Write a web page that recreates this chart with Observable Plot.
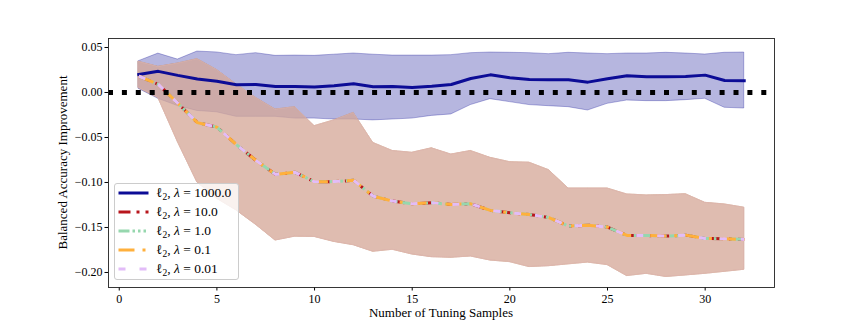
<!DOCTYPE html>
<html>
<head>
<meta charset="utf-8">
<script src="https://cdn.jsdelivr.net/npm/d3@7"></script>
<script src="https://cdn.jsdelivr.net/npm/@observablehq/plot@0.6"></script>
<style>
  body { margin: 0; background: #fff; }
  #wrap { position: relative; width: 861px; height: 323px; font-family: "Liberation Serif", serif; }
  #legend { position: absolute; left: 114px; top: 183px; width: 125px; height: 97px; box-sizing: border-box;
            background: rgba(255,255,255,0.8); border: 1px solid #cccccc; border-radius: 3px; }
  .lg-line { position: absolute; left: 3px; }
  .lg-text { position: absolute; left: 41px; font-size: 13.5px; line-height: 16px; white-space: nowrap; color: #000; }
  .lg-text .sub { font-size: 9.5px; position: relative; top: 3px; }
</style>
</head>
<body>
<div id="wrap"></div>
<script>
// ---- data ----
const xs = [1,2,3,4,5,6,7,8,9,10,11,12,13,14,15,16,17,18,19,20,21,22,23,24,25,26,27,28,29,30,31,32];

// lambda = 1000.0 (mean and band)
const blueMean = [0.0200,0.0235,0.0190,0.0150,0.0125,0.0087,0.0089,0.0067,0.0067,0.0060,0.0074,0.0096,0.0063,0.0067,0.0056,0.0070,
                  0.0089,0.0156,0.0196,0.0163,0.0144,0.0141,0.0141,0.0115,0.0152,0.0185,0.0174,0.0174,0.0178,0.0193,0.0133,0.0130];
const blueHi   = [0.0348,0.0432,0.0366,0.0455,0.0445,0.0415,0.0437,0.0407,0.0410,0.0407,0.0420,0.0433,0.0420,0.0410,0.0410,0.0410,
                  0.0415,0.0437,0.0444,0.0441,0.0437,0.0426,0.0441,0.0433,0.0426,0.0433,0.0433,0.0441,0.0433,0.0422,0.0441,0.0444];
const blueLo   = [0.0040,-0.0070,-0.0150,-0.0205,-0.0220,-0.0270,-0.0270,-0.0270,-0.0290,-0.0290,-0.0300,-0.0300,-0.0310,-0.0300,-0.0290,-0.0260,
                  -0.0244,-0.0140,-0.0074,-0.0107,-0.0140,-0.0152,-0.0163,-0.0200,-0.0126,-0.0089,-0.0096,-0.0096,-0.0085,-0.0070,-0.0170,-0.0178];

// lambda = 10.0, 1.0, 0.1, 0.01 (curves coincide)
const regMean  = [0.0181,0.0090,-0.0120,-0.0335,-0.0385,-0.0580,-0.0755,-0.0910,-0.0887,-0.0993,-0.0990,-0.0976,-0.1152,-0.1207,-0.1237,-0.1226,
                  -0.1244,-0.1237,-0.1310,-0.1337,-0.1355,-0.1390,-0.1485,-0.1474,-0.1496,-0.1589,-0.1589,-0.1596,-0.1585,-0.1622,-0.1626,-0.1633];
const regHi    = [0.0341,0.0285,0.0322,0.0370,0.0250,0.0090,-0.0060,-0.0190,-0.0163,-0.0374,-0.0310,-0.0227,-0.0560,-0.0650,-0.0670,-0.0620,
                  -0.0690,-0.0650,-0.0726,-0.0774,-0.0780,-0.0863,-0.1067,-0.1067,-0.1067,-0.1133,-0.1144,-0.1140,-0.1130,-0.1226,-0.1244,-0.1280];
const regLo    = [0.0050,-0.0060,-0.0550,-0.1000,-0.1180,-0.1310,-0.1470,-0.1645,-0.1602,-0.1605,-0.1660,-0.1697,-0.1770,-0.1748,-0.1800,-0.1830,
                  -0.1837,-0.1822,-0.1867,-0.1885,-0.1940,-0.1930,-0.1910,-0.1890,-0.1918,-0.2040,-0.2015,-0.2050,-0.2033,-0.2015,-0.1993,-0.1970];

const seriesLabels = ["1000.0", "10.0", "1.0", "0.1", "0.01"];
const seriesColors = ["#0c0c96", "#b8161c", "#96d7ae", "#ffb03c", "#e2bcf8"];
const seriesDash   = [null, "12,6,3,6", "11,3,2.5,3,2.5,3,2.5,3", "16,8,3,8", "7,14"];

const xTicks = [0, 5, 10, 15, 20, 25, 30];
const yTicks = [-0.20, -0.15, -0.10, -0.05, 0.00, 0.05];
const xLabel = "Number of Tuning Samples";
const yLabel = "Balanced Accuracy Improvement";

// ---- table ----
const data = xs.map((x, i) => ({x, bm: blueMean[i], bh: blueHi[i], bl: blueLo[i], rm: regMean[i], rh: regHi[i], rl: regLo[i]}));

const marks = [];
marks.push(Plot.areaY(data, {x: "x", y1: "bl", y2: "bh", fill: seriesColors[0], fillOpacity: 0.3,
  stroke: seriesColors[0], strokeOpacity: 0.3, strokeWidth: 1}));
for (let s = 1; s < 5; s++) {
  marks.push(Plot.areaY(data, {x: "x", y1: "rl", y2: "rh", fill: seriesColors[s], fillOpacity: 0.3,
    stroke: seriesColors[s], strokeOpacity: 0.3, strokeWidth: 1}));
}
marks.push(Plot.lineY(data, {x: "x", y: "bm", stroke: seriesColors[0], strokeWidth: 3, strokeLinecap: "square", strokeLinejoin: "round"}));
for (let s = 1; s < 5; s++) {
  marks.push(Plot.lineY(data, {x: "x", y: "rm", stroke: seriesColors[s], strokeWidth: 3,
    strokeDasharray: seriesDash[s], strokeLinecap: "butt", strokeLinejoin: "round"}));
}
marks.push(Plot.ruleY([0], {stroke: "#000", strokeWidth: 4.8, strokeDasharray: "5,8.9"}));
marks.push(Plot.frame({stroke: "#222", strokeWidth: 0.9}));

const fmtY = d => (d < -1e-9 ? "\u2212" : "") + Math.abs(d).toFixed(2);

const chart = Plot.plot({
  width: 861, height: 323,
  marginLeft: 108, marginRight: 87, marginTop: 38, marginBottom: 36,
  style: {fontFamily: '"Liberation Serif", serif', fontSize: "12px", color: "#000", background: "#fff"},
  x: {domain: [-0.55, 33.55], ticks: xTicks, tickSize: 3.5, tickPadding: 3, label: null, tickFormat: d => String(d)},
  y: {domain: [-0.2167, 0.06], ticks: yTicks, tickSize: 3.5, tickPadding: 2.5, label: null, tickFormat: fmtY},
  marks
});

const svg = d3.select(chart);
svg.append("text")
  .attr("x", 441).attr("y", 316.5)
  .attr("text-anchor", "middle")
  .attr("font-size", 13)
  .attr("fill", "#000")
  .text(xLabel);
svg.append("text")
  .attr("transform", "translate(66.5,162.5) rotate(-90)")
  .attr("text-anchor", "middle")
  .attr("font-size", 13)
  .attr("fill", "#000")
  .text(yLabel);

const wrap = document.getElementById("wrap");
wrap.appendChild(chart);

// ---- legend ----
const legend = document.createElement("div");
legend.id = "legend";
seriesLabels.forEach((lab, i) => {
  const cy = 8.5 + 19 * i;
  const ns = "http://www.w3.org/2000/svg";
  const s = document.createElementNS(ns, "svg");
  s.setAttribute("class", "lg-line");
  s.setAttribute("width", 31); s.setAttribute("height", 10);
  s.style.top = (cy - 5) + "px";
  const ln = document.createElementNS(ns, "line");
  ln.setAttribute("x1", 0.5); ln.setAttribute("x2", 30.5);
  ln.setAttribute("y1", 5); ln.setAttribute("y2", 5);
  ln.setAttribute("stroke", seriesColors[i]);
  ln.setAttribute("stroke-width", 3);
  if (seriesDash[i]) ln.setAttribute("stroke-dasharray", seriesDash[i]);
  s.appendChild(ln);
  legend.appendChild(s);
  const t = document.createElement("div");
  t.className = "lg-text";
  t.style.top = (cy - 8) + "px";
  t.innerHTML = 'ℓ<span class="sub">2</span>, <i>λ</i> = ' + lab;
  legend.appendChild(t);
});
wrap.appendChild(legend);
</script>
</body>
</html>
